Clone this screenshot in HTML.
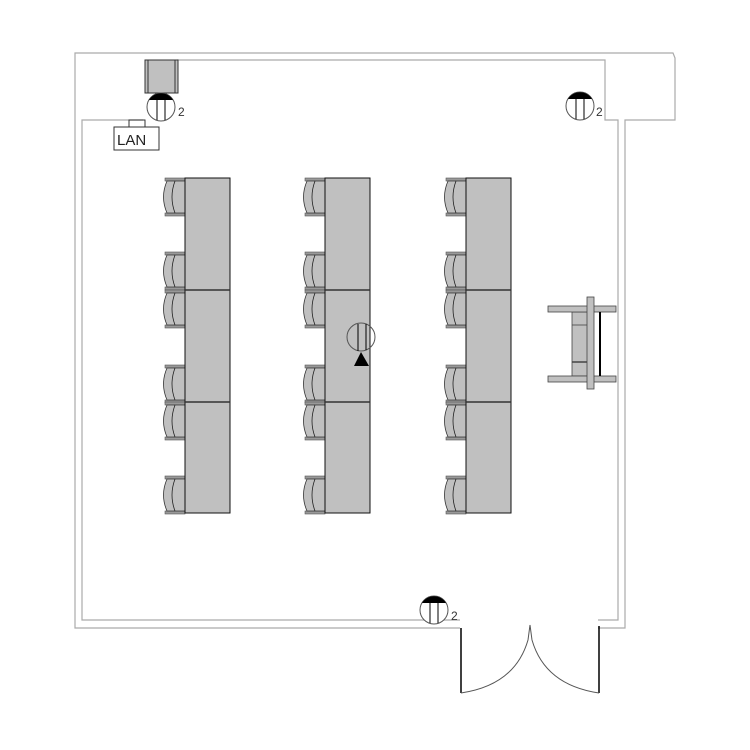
<!DOCTYPE html>
<html><head><style>body{margin:0;background:#fff}svg{display:block}</style></head>
<body>
<svg width="750" height="750" viewBox="0 0 750 750" xmlns="http://www.w3.org/2000/svg" font-family="Liberation Sans, sans-serif">
<defs>
<g id="chair">
  <rect x="165" y="0" width="20" height="3" fill="#999" stroke="#555" stroke-width="0.6"/>
  <rect x="165" y="35" width="20" height="3" fill="#999" stroke="#555" stroke-width="0.6"/>
  <path d="M167,3 Q160,19 167,35 L185,35 L185,3 Z" fill="#c0c0c0" stroke="#333" stroke-width="0.8"/>
  <path d="M175,3 Q169,19 175,35" fill="none" stroke="#222" stroke-width="0.8"/>
</g>
<g id="col">
  <use href="#chair" y="178"/><use href="#chair" y="252"/><use href="#chair" y="290"/>
  <use href="#chair" y="365"/><use href="#chair" y="402"/><use href="#chair" y="476"/>
  <rect x="185" y="178" width="45" height="335" fill="#c0c0c0" stroke="#111" stroke-width="1"/>
  <line x1="185" y1="290" x2="230" y2="290" stroke="#333" stroke-width="1.5"/>
  <line x1="185" y1="402" x2="230" y2="402" stroke="#333" stroke-width="1.5"/>
</g>
<g id="lamp">
  <circle cx="0" cy="0" r="14" fill="#fff" stroke="#555" stroke-width="1"/>
  <path d="M-12,-7 A14,14 0 0 1 12,-7 Z" fill="#000"/>
  <line x1="-4" y1="-7" x2="-4" y2="13" stroke="#000"/>
  <line x1="4" y1="-7" x2="4" y2="13" stroke="#000"/>
</g>
</defs>
<g fill="none" stroke="#aaa" stroke-width="1.2">
  <polyline points="460,628 75,628 75,53 673,53 675,58 675,120 625,120 625,628 598,628"/>
  <polyline points="460,620 82,620 82,120 143,120"/>
  <polyline points="177,60 605,60 605,120 618,120 618,620 598,620"/>
</g>
<rect x="145" y="60" width="33" height="33" fill="#c0c0c0" stroke="#333"/>
<line x1="148" y1="60" x2="148" y2="93" stroke="#333"/>
<line x1="175" y1="60" x2="175" y2="93" stroke="#333"/>
<use href="#lamp" x="161" y="107"/>
<text x="178" y="116" font-size="12" fill="#333">2</text>
<polyline points="129,127 129,120 145,120 145,127" fill="none" stroke="#333"/>
<rect x="114" y="127" width="45" height="23" fill="#fff" stroke="#333"/>
<text x="117" y="145" font-size="15" fill="#222">LAN</text>
<use href="#lamp" x="580" y="106"/>
<text x="596" y="116" font-size="12" fill="#333">2</text>
<use href="#lamp" x="434" y="610"/>
<text x="451" y="620" font-size="12" fill="#333">2</text>
<use href="#col"/>
<use href="#col" x="140"/>
<use href="#col" x="281"/>
<circle cx="361" cy="337" r="14" fill="none" stroke="#555"/>
<line x1="358" y1="324" x2="358" y2="351" stroke="#000"/>
<line x1="366" y1="324" x2="366" y2="350" stroke="#000"/>
<path d="M354,366 L361,352 L369,366 Z" fill="#000"/>
<g stroke="#444" stroke-width="0.8">
  <rect x="572" y="312" width="16" height="64" fill="#c0c0c0"/>
  <line x1="572" y1="325" x2="588" y2="325"/>
  <line x1="572" y1="362" x2="588" y2="362" stroke-width="1.5"/>
  <rect x="548" y="306" width="68" height="6" fill="#c0c0c0"/>
  <rect x="548" y="376" width="68" height="6" fill="#c0c0c0"/>
  <rect x="587" y="297" width="7" height="92" fill="#c0c0c0"/>
</g>
<line x1="600" y1="312" x2="600" y2="376" stroke="#000" stroke-width="2"/>
<g fill="none" stroke="#000" stroke-width="1.5">
  <line x1="461" y1="628" x2="461" y2="693"/>
  <line x1="599" y1="626" x2="599" y2="693"/>
</g>
<g fill="none" stroke="#555" stroke-width="1">
  <path d="M461,693 Q515,685 528,640 L530,625"/>
  <path d="M599,693 Q545,685 532,640 L530,625"/>
</g>
</svg>
</body></html>
